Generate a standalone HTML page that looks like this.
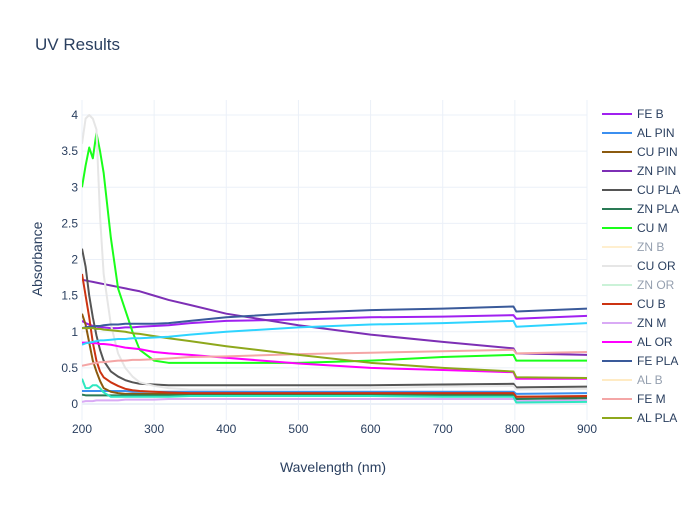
<!DOCTYPE html>
<html><head><meta charset="utf-8"><style>
body{margin:0;background:#fff;font-family:"Liberation Sans",sans-serif}
svg text{font-family:"Liberation Sans",sans-serif;fill:#2a3f5f}
</style></head><body>
<svg id="chart" width="700" height="500">
<text x="35" y="50" font-size="17">UV Results</text>
<g id="grid"></g><g id="ticks"></g>
<defs><clipPath id="pc"><rect x="82" y="100" width="505" height="320"/></clipPath><clipPath id="lc"><rect x="595" y="100" width="105" height="325"/></clipPath></defs>
<g id="series" clip-path="url(#pc)"></g>
<g id="legend" clip-path="url(#lc)"></g>
<text x="333" y="472" font-size="14" text-anchor="middle">Wavelength (nm)</text>
<text transform="translate(42,259) rotate(-90)" font-size="14" text-anchor="middle">Absorbance</text>
</svg>
<script>
const xTicks=[200,300,400,500,600,700,800,900];
const yTicks=[0,0.5,1,1.5,2,2.5,3,3.5,4];
const yTickLabels=["0","0.5","1","1.5","2","2.5","3","3.5","4"];
const xs=[200,205,210,215,220,225,230,240,250,260,270,280,300,320,350,400,500,600,700,798,802,900];
const feB  =[1.15,1.12,1.1,1.08,1.07,1.06,1.06,1.05,1.05,1.06,1.06,1.07,1.08,1.09,1.12,1.15,1.17,1.2,1.21,1.23,1.18,1.22];
const znPin=[1.72,1.71,1.7,1.69,1.68,1.67,1.66,1.64,1.62,1.6,1.58,1.56,1.5,1.44,1.37,1.25,1.09,0.96,0.86,0.77,0.7,0.68];
const fePla=[1.05,1.06,1.07,1.07,1.08,1.08,1.09,1.1,1.1,1.11,1.11,1.11,1.11,1.12,1.15,1.2,1.26,1.3,1.32,1.35,1.28,1.32];
const cyan =[0.82,0.84,0.85,0.86,0.87,0.88,0.88,0.89,0.9,0.9,0.91,0.91,0.92,0.93,0.96,1.0,1.06,1.1,1.12,1.15,1.07,1.12];
const alPla=[1.05,1.05,1.05,1.05,1.04,1.04,1.03,1.02,1.01,1.0,0.98,0.97,0.94,0.91,0.87,0.8,0.68,0.57,0.5,0.45,0.37,0.36];
const alOr =[0.85,0.85,0.85,0.84,0.84,0.83,0.83,0.82,0.8,0.78,0.77,0.76,0.72,0.7,0.68,0.64,0.56,0.5,0.47,0.44,0.35,0.35];
const feM  =[0.53,0.54,0.55,0.56,0.57,0.58,0.58,0.59,0.6,0.6,0.61,0.61,0.62,0.63,0.65,0.66,0.69,0.71,0.73,0.75,0.7,0.72];
const cuM  =[3.0,3.3,3.55,3.4,3.75,3.5,3.2,2.3,1.6,1.3,1.0,0.75,0.6,0.57,0.57,0.57,0.57,0.6,0.65,0.68,0.6,0.6];
const cuOr =[3.6,3.95,4.0,3.95,3.8,2.6,1.8,1.1,0.7,0.5,0.38,0.3,0.25,0.22,0.2,0.2,0.21,0.22,0.24,0.25,0.2,0.21];
const cuPla=[2.15,1.9,1.5,1.2,0.95,0.75,0.6,0.45,0.38,0.33,0.3,0.28,0.27,0.26,0.26,0.26,0.26,0.26,0.27,0.28,0.23,0.24];
const cuB  =[1.8,1.5,1.2,0.85,0.6,0.45,0.37,0.3,0.25,0.21,0.19,0.18,0.17,0.16,0.15,0.15,0.15,0.15,0.15,0.15,0.1,0.11];
const cuPin=[1.25,1.1,0.85,0.6,0.45,0.32,0.22,0.17,0.15,0.14,0.14,0.14,0.14,0.14,0.14,0.14,0.14,0.14,0.14,0.14,0.1,0.1];
const alPin=[0.18,0.18,0.18,0.18,0.18,0.18,0.18,0.18,0.18,0.18,0.17,0.17,0.17,0.17,0.17,0.17,0.17,0.17,0.17,0.17,0.14,0.15];
const teal =[0.35,0.22,0.22,0.26,0.26,0.22,0.16,0.1,0.1,0.1,0.1,0.1,0.1,0.1,0.11,0.11,0.11,0.11,0.1,0.1,0.02,0.03];
const znPla=[0.13,0.12,0.12,0.12,0.12,0.12,0.12,0.12,0.12,0.12,0.12,0.12,0.12,0.12,0.12,0.12,0.12,0.12,0.12,0.12,0.07,0.08];
const znM  =[0.03,0.04,0.04,0.04,0.05,0.05,0.05,0.05,0.05,0.06,0.06,0.06,0.06,0.07,0.07,0.07,0.07,0.07,0.07,0.07,0.04,0.05];
const seriesNames=["FE B","AL PIN","CU PIN","ZN PIN","CU PLA","ZN PLA","CU M","ZN B","CU OR","ZN OR","CU B","ZN M","AL OR","FE PLA","AL B","FE M","AL PLA"];
const seriesColors=["#a020f0","#3b8ff0","#8b5a0f","#7d2fb5","#555555","#2a7a55","#1aff1a","#ffe0a0","#e6e6e6","#99e6b3","#cc3311","#d9aaf5","#ff00ff","#3a5a9a","#ffd98a","#f4a6a6","#8ea81c"];
const seriesHidden=[0,0,0,0,0,0,0,1,0,1,0,0,0,0,1,0,0];
const seriesData=[feB,alPin,cuPin,znPin,cuPla,znPla,cuM,null,cuOr,null,cuB,znM,alOr,fePla,null,feM,alPla];
const X=v=>82+(v-200)/700*505, Y=v=>404-v*72.25;
const NS="http://www.w3.org/2000/svg";
const mk=(t,a,p)=>{const e=document.createElementNS(NS,t);for(const k in a)e.setAttribute(k,a[k]);p.appendChild(e);return e;};
const grid=document.getElementById('grid'),ticks=document.getElementById('ticks');
xTicks.forEach(t=>{
 const l=mk('line',{x1:X(t),x2:X(t),y1:100,y2:420,stroke:'#ebf0f8'},grid);
 
 
 const tx=mk('text',{x:X(t),y:433,'font-size':12,'text-anchor':'middle'},ticks);tx.textContent=t;
 
 
});
yTicks.forEach((t,i)=>{
 const l=mk('line',{x1:82,x2:587,y1:Y(t),y2:Y(t),stroke:t===0?'#ebf0f8':'#ebf0f8','stroke-width':t===0?2:1},grid);
 
 
 const tx=mk('text',{x:78,y:Y(t)+4,'font-size':12,'text-anchor':'end'},ticks);tx.textContent=yTickLabels[i];
 
 
});
const sg=document.getElementById('series'),lg=document.getElementById('legend');
function line(arr,color,name){
 const p=mk('polyline',{points:arr.map((v,i)=>X(xs[i])+','+Y(v)).join(' '),fill:'none',stroke:color,'stroke-width':2,'stroke-linejoin':'round'},sg);
 
 
}
seriesData.forEach((d,i)=>{if(d)line(d,seriesColors[i],'series-'+seriesNames[i].toLowerCase().replace(' ','-'));});
line(cyan,'#2ed4ff','series-cyan');
line(teal,'#2ee8c0','series-teal');
seriesNames.forEach((n,i)=>{
 const y=114+i*19;
 const g=mk('g',{opacity:seriesHidden[i]?0.5:1},lg);
 
 
 mk('line',{x1:602,x2:632,y1:y,y2:y,stroke:seriesColors[i],'stroke-width':2},g);
 const t=mk('text',{x:637,y:y+4,'font-size':12},g);t.textContent=n;
});
</script>
</body></html>
